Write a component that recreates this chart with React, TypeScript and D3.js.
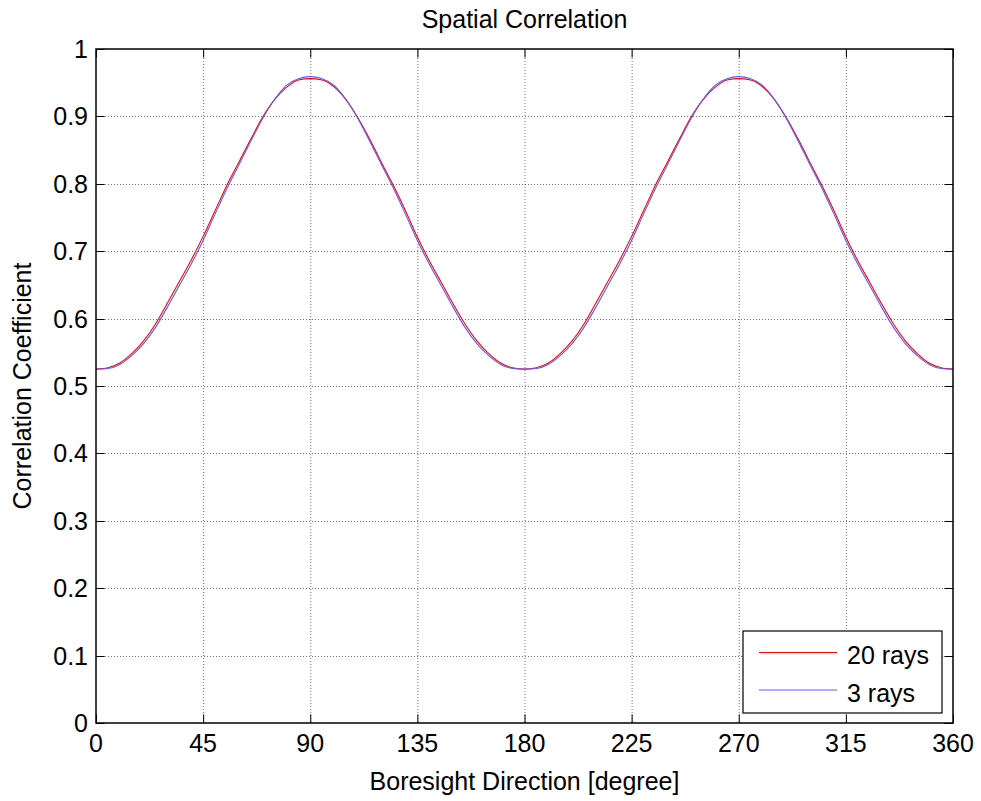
import React from "react";
import * as d3 from "d3";

const angles: number[] = d3.range(0, 361, 5);

const series20rays: number[] = [
  0.525, 0.527, 0.534, 0.548, 0.567, 0.592, 0.623, 0.655, 0.687, 0.722, 0.760, 0.798, 0.832, 0.866, 0.899, 0.925, 0.943, 0.954, 0.956,
  0.954, 0.944, 0.925, 0.898, 0.866, 0.831, 0.797, 0.760, 0.721, 0.686, 0.654, 0.622, 0.592, 0.567, 0.548, 0.534, 0.527, 0.525,
  0.527, 0.534, 0.548, 0.567, 0.592, 0.623, 0.655, 0.687, 0.722, 0.760, 0.798, 0.832, 0.866, 0.899, 0.925, 0.943, 0.954, 0.956,
  0.954, 0.944, 0.925, 0.898, 0.866, 0.831, 0.797, 0.760, 0.721, 0.686, 0.654, 0.622, 0.592, 0.567, 0.548, 0.534, 0.527, 0.525,
];

const series3rays: number[] = [
  0.525, 0.526, 0.532, 0.545, 0.563, 0.587, 0.617, 0.649, 0.681, 0.716, 0.755, 0.793, 0.828, 0.863, 0.897, 0.925, 0.946, 0.956, 0.959,
  0.956, 0.946, 0.925, 0.897, 0.863, 0.828, 0.793, 0.755, 0.716, 0.681, 0.649, 0.617, 0.587, 0.563, 0.545, 0.532, 0.526, 0.525,
  0.526, 0.532, 0.545, 0.563, 0.587, 0.617, 0.649, 0.681, 0.716, 0.755, 0.793, 0.828, 0.863, 0.897, 0.925, 0.946, 0.956, 0.959,
  0.956, 0.946, 0.925, 0.897, 0.863, 0.828, 0.793, 0.755, 0.716, 0.681, 0.649, 0.617, 0.587, 0.563, 0.545, 0.532, 0.526, 0.525,
];

const xTicks: number[] = [0, 45, 90, 135, 180, 225, 270, 315, 360];
const yTicks: number[] = [0, 0.1, 0.2, 0.3, 0.4, 0.5, 0.6, 0.7, 0.8, 0.9, 1];
const legendLabels: string[] = ["20 rays", "3 rays"];
const seriesColors: string[] = ["#ff0000", "#5a5aff"];

const W = 981;
const H = 801;
const left = 96;
const right = 953;
const top = 49;
const bottom = 723;
const FONT = "'Liberation Sans', Arial, Helvetica, sans-serif";
const FS = 25;
const TICK = 8.6;

export default function App() {
  const x = d3.scaleLinear().domain([0, 360]).range([left, right]);
  const y = d3.scaleLinear().domain([0, 1]).range([bottom, top]);
  const line = d3
    .line<[number, number]>()
    .x((d) => x(d[0]))
    .y((d) => y(d[1]))
    .curve(d3.curveMonotoneX);

  const allSeries = [series20rays, series3rays];

  return (
    <svg
      width={W}
      height={H}
      style={{ position: "absolute", left: 0, top: 0, background: "#fff", fontFamily: FONT }}
    >
      <rect x={0} y={0} width={W} height={H} fill="#fff" />
      <defs>
        <clipPath id="plotclip">
          <rect x={left} y={top} width={right - left} height={bottom - top} />
        </clipPath>
      </defs>
      {/* grid */}
      <g stroke="#000" strokeOpacity={0.55} strokeWidth={1} strokeDasharray="1,2">
        {xTicks.slice(1, -1).map((t) => (
          <line key={"gx" + t} x1={x(t) + 0.5} x2={x(t) + 0.5} y1={top} y2={bottom} />
        ))}
        {yTicks.slice(1, -1).map((t) => (
          <line key={"gy" + t} x1={left} x2={right} y1={Math.round(y(t)) + 0.5} y2={Math.round(y(t)) + 0.5} />
        ))}
      </g>
      {/* curves */}
      <g clipPath="url(#plotclip)" fill="none">
        {allSeries.map((s, i) => (
          <path
            key={"s" + i}
            d={line(angles.map((a, j) => [a, s[j]] as [number, number])) || ""}
            stroke={seriesColors[i]}
            strokeWidth={1.1}
          />
        ))}
      </g>
      {/* ticks */}
      <g stroke="#000" strokeWidth={1}>
        {xTicks.map((t) => (
          <g key={"tx" + t}>
            <line x1={x(t) + 0.5} x2={x(t) + 0.5} y1={bottom} y2={bottom - TICK} />
            <line x1={x(t) + 0.5} x2={x(t) + 0.5} y1={top} y2={top + TICK} />
          </g>
        ))}
        {yTicks.map((t) => (
          <g key={"ty" + t}>
            <line x1={left} x2={left + TICK} y1={Math.round(y(t)) + 0.5} y2={Math.round(y(t)) + 0.5} />
            <line x1={right} x2={right - TICK} y1={Math.round(y(t)) + 0.5} y2={Math.round(y(t)) + 0.5} />
          </g>
        ))}
      </g>
      {/* box */}
      <rect x={left} y={top} width={right - left} height={bottom - top} fill="none" stroke="#000" strokeWidth={1.5} />
      {/* tick labels */}
      <g fontSize={FS} fill="#000">
        {xTicks.map((t) => (
          <text key={"lx" + t} x={x(t)} y={bottom + 29} textAnchor="middle">
            {String(t)}
          </text>
        ))}
        {yTicks.map((t) => (
          <text key={"ly" + t} x={left - 8} y={y(t) + 9} textAnchor="end">
            {t === 0 || t === 1 ? String(t) : t.toFixed(1)}
          </text>
        ))}
      </g>
      {/* titles */}
      <text x={(left + right) / 2} y={28} textAnchor="middle" fontSize={FS} fill="#000">
        Spatial Correlation
      </text>
      <text x={(left + right) / 2} y={790} textAnchor="middle" fontSize={FS} fill="#000">
        Boresight Direction [degree]
      </text>
      <text
        transform={`translate(31,${(top + bottom) / 2}) rotate(-90)`}
        textAnchor="middle"
        fontSize={FS}
        fill="#000"
      >
        Correlation Coefficient
      </text>
      {/* legend */}
      <g>
        <rect x={743} y={631} width={199} height={82} fill="#fff" stroke="#000" strokeWidth={1.2} />
        {legendLabels.map((lab, i) => (
          <g key={"lg" + i}>
            <line x1={759} x2={837} y1={652.5 + i * 37.5} y2={652.5 + i * 37.5} stroke={seriesColors[i]} strokeWidth={1.1} />
            <text x={847} y={664 + i * 37.5} fontSize={FS} fill="#000">
              {lab}
            </text>
          </g>
        ))}
      </g>
    </svg>
  );
}
